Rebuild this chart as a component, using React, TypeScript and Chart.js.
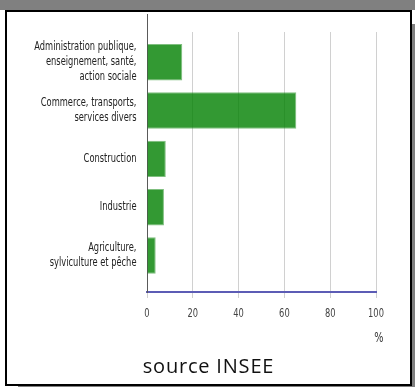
import React, { useEffect, useRef } from "react";
import { Chart, registerables } from "chart.js";

Chart.register(...registerables);

// Sector names (one array entry per printed line)
const sectors: string[][] = [
  ["Administration publique,", "enseignement, santé,", "action sociale"],
  ["Commerce, transports,", "services divers"],
  ["Construction"],
  ["Industrie"],
  ["Agriculture,", "sylviculture et pêche"],
];
// Share of each sector, in %
const shares: number[] = [15.4, 65.2, 8.2, 7.4, 3.8];
const percentMin = 0;
const percentMax = 100;
const percentStep = 20;
const unitLabel = "%";
const sourceText = "source INSEE";

const LABEL_FAMILY = "'DejaVu Sans Condensed', 'DejaVu Sans', sans-serif";
const SQUEEZE = 0.77;

// Draws horizontally condensed text centred vertically on (x, y)
function narrowText(ctx: CanvasRenderingContext2D, text: string, x: number, y: number) {
  ctx.save();
  ctx.translate(x, y);
  ctx.scale(SQUEEZE, 1);
  ctx.fillText(text, 0, 0);
  ctx.restore();
}

// Axis labels in a condensed face, placed from the scales
const condensedTicks = {
  id: "condensedTicks",
  afterDraw(chart: any) {
    const { ctx, scales, chartArea } = chart;
    const xs = scales.x;
    const ys = scales.y;
    ctx.save();
    ctx.textBaseline = "middle";

    // sector names, right-aligned against the vertical axis
    ctx.font = `12px ${LABEL_FAMILY}`;
    ctx.fillStyle = "#222";
    ctx.textAlign = "right";
    const lineStep = 15;
    const rx = ys.right - 10.5;
    sectors.forEach((lines, i) => {
      const cy = ys.getPixelForValue(i);
      lines.forEach((line, k) => {
        narrowText(ctx, line, rx, cy + (k - (lines.length - 1) / 2) * lineStep);
      });
    });

    // percentage ticks
    ctx.fillStyle = "#444";
    ctx.textAlign = "center";
    xs.ticks.forEach((t: any, i: number) => {
      narrowText(ctx, String(t.value), xs.getPixelForTick(i), xs.top + 22);
    });

    // unit
    ctx.font = `14px ${LABEL_FAMILY}`;
    ctx.fillStyle = "#333";
    ctx.textAlign = "right";
    narrowText(ctx, unitLabel, chartArea.right + 7.5, xs.top + 46);
    ctx.restore();
  },
};

// Extends the vertical axis line above the plot area
const axisRise = {
  id: "axisRise",
  afterDraw(chart: any) {
    const { ctx, chartArea, scales } = chart;
    const x0 = Math.round(scales.x.getPixelForValue(percentMin)) + 0.5;
    ctx.save();
    ctx.strokeStyle = "#5a5a5a";
    ctx.lineWidth = 1;
    ctx.beginPath();
    ctx.moveTo(x0, chartArea.top - 18);
    ctx.lineTo(x0, chartArea.top);
    ctx.stroke();
    ctx.restore();
  },
};

function SectorChart() {
  const ref = useRef<HTMLCanvasElement | null>(null);

  useEffect(() => {
    if (!ref.current) return;
    const chart = new Chart(ref.current, {
      type: "bar",
      data: {
        datasets: [
          {
            data: shares.map((v, i) => ({ x: v, y: i })),
            backgroundColor: "rgba(0,128,0,0.8)",
            borderColor: "rgba(0,128,0,0.5)",
            borderWidth: 1,
            categoryPercentage: 1,
            barPercentage: 0.755,
          },
        ],
      },
      options: {
        indexAxis: "y",
        animation: false,
        responsive: false,
        maintainAspectRatio: false,
        events: [],
        layout: { padding: { top: 32, right: 39, bottom: 0, left: 0 } },
        plugins: {
          legend: { display: false },
          tooltip: { enabled: false },
        },
        scales: {
          x: {
            type: "linear",
            position: "bottom",
            min: percentMin,
            max: percentMax,
            afterFit: (s: any) => {
              s.height = 95;
            },
            ticks: { stepSize: percentStep, display: false },
            grid: { color: "#d0d0d0", lineWidth: 1, tickLength: 6, drawTicks: true },
            border: { color: "#5c5cb5", width: 2 },
          },
          y: {
            type: "linear",
            position: "left",
            reverse: true,
            offset: false,
            min: -0.627,
            max: 4.756,
            afterFit: (s: any) => {
              s.width = 147;
            },
            ticks: { stepSize: 1, includeBounds: false, display: false },
            grid: { display: false, drawTicks: false, offset: false },
            border: { color: "#5a5a5a", width: 1 },
          },
        },
      },
      plugins: [axisRise, condensedTicks],
    } as any);
    return () => chart.destroy();
  }, []);

  return <canvas ref={ref} width={415} height={387} style={{ position: "absolute", left: 0, top: 0 }} />;
}

export default function App() {
  return (
    <div
      style={{
        position: "absolute",
        left: 0,
        top: 0,
        width: 415,
        height: 387,
        overflow: "hidden",
        background: "#fff",
      }}
    >
      <div style={{ position: "absolute", left: 0, top: 0, width: 415, height: 10, background: "#808080" }} />
      <div
        style={{
          position: "absolute",
          left: 5,
          top: 10,
          width: 407,
          height: 376,
          boxSizing: "border-box",
          border: "2px solid #000",
          background: "#fff",
          boxShadow: "13px 14px 0 #808080",
        }}
      />
      <SectorChart />
      <div
        style={{
          position: "absolute",
          left: 5,
          width: 407,
          top: 352,
          textAlign: "center",
          fontFamily: "'Open Sans', Lato, sans-serif",
          fontSize: 20,
          letterSpacing: 0.8,
          lineHeight: "28px",
          color: "#111",
        }}
      >
        {sourceText}
      </div>
    </div>
  );
}
